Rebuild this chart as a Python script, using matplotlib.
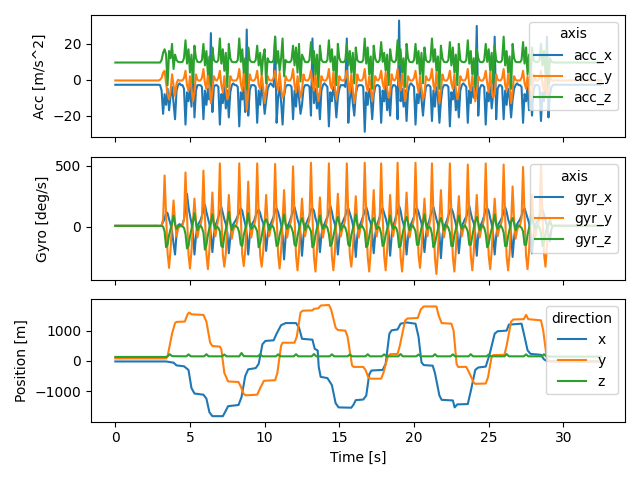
import numpy as np
import matplotlib
matplotlib.use("Agg")
import matplotlib.pyplot as plt

# ---------------- data ----------------
# sample grid of the walking part (s): starts at 3.0 s, one sample every 0.1 s
move_start = 3.0
move_dt = 0.1
rest_before_t = [0.0, 2.9]
rest_after_t = [29.4, 32.5]

# rest levels
acc_rest = {"acc_x": -2.8, "acc_y": -0.4, "acc_z": 9.6}
gyr_rest = {"gyr_x": 6, "gyr_y": 6, "gyr_z": 6}

# values read per gait cycle (one row per step)
acc_x_rows = [
    [-3, -6, -19],
    [-8, -14, -5, -17, -9, -4, -13, -22, -6, -3, -2, -3, -3, -5],
    [-25, -7, -12, -4, -15, 8, -21, -6, -3, -3, -3, -4],
    [-22, -6, -14, -5, -11, 26, -18, -4, -3, -3, -4],
    [-25, -8, -13, -3, -16, -6, -21, -7, -3, -2, -3, -3, -4],
    [-26, -7, -11, -4, -18, 28, -20, -6, -3, -3, -3, -4],
    [-24, -6, -14, -3, -9, -19, -12, -5, -3, -2, -3, -4],
    [24, -24, -10, -4, -12, -25, -9, -4, -3, -3, -3, -4],
    [-22, -6, -15, -4, -10, -19, -14, -5, -3, -3, -3, -4],
    [-20, 23, -13, -5, -16, -8, -22, -6, -3, -2, -3, -4],
    [-26, -7, -12, -4, -9, -21, -10, -5, -3, -3, -3, -4],
    [23, -24, -11, -4, -13, -20, -8, -4, -3, -3, -3, -4],
    [-29, -7, -14, -5, -10, -22, -9, -4, -3, -3, -4],
    [-24, -6, -12, -3, -17, -9, -20, -5, -3, -3, -4],
    [-22, 33, -12, -5, -15, -6, -23, -7, -3, -2, -3, -4],
    [-25, -8, -13, -4, -11, -20, -10, -4, -3, -3, -4],
    [-23, -6, -15, -4, -9, -24, -12, -5, -3, -3, -3, -4],
    [-26, -7, -11, -3, -17, -8, -21, -6, -3, -2, -3, -4],
    [-24, -6, -13, -4, -10, -7, 30, -20, -5, -3, -3, -4],
    [-25, -7, -12, -4, -16, -8, 24, -22, -5, -3, -3, -4],
    [-22, -6, -14, -5, -10, -21, -11, -5, -3, -2, -3, -3, -4],
    [-24, -8, -12, -4, -17, -7, -20, -6, -3, -3, -3, -4],
    [-23, -7, -12, -5, 24, -21, -8, -4, -3],
]

acc_y_rows = [
    [0, 1, 4],
    [5, -2, -8, -11, -6, 3, -3, -9, -2, 0, -0.5, -0.4, -0.4, 1],
    [5, -3, -6, 2, -5, -12, -7, 3, 0, -0.5, -0.4, 1],
    [6, -2, -5, 3, -4, -13, -6, 2, 0, -0.4, 1],
    [5, -3, -7, 2, -4, -11, -8, 2, 0, -0.5, -0.4, -0.4, 1],
    [6, -2, -6, 4, -5, -17, -7, 3, 0, -0.5, -0.4, 1],
    [5, -3, -5, 3, -4, -13, -6, 2, 0, -0.4, -0.4, 1],
    [5, -2, -6, 4, -5, -10, -8, 2, 0, -0.5, -0.4, 1],
    [6, -3, -7, 2, -4, -10, -6, 3, 0, -0.4, -0.4, 1],
    [5, -2, -6, 3, -5, -12, -7, 2, 0, -0.5, -0.4, 1],
    [6, -3, -5, 4, -4, -11, -6, 2, 0, -0.4, -0.4, 1],
    [5, -2, -7, 3, -5, -13, -8, 3, 0, -0.5, -0.4, 1],
    [6, -3, -6, 2, -4, -12, -6, 2, 0, -0.4, 1],
    [5, -2, -5, 4, -5, -10, -7, 3, 0, -0.4, 1],
    [6, -3, -6, 3, -4, -12, -6, 2, 0, -0.5, -0.4, 1],
    [5, -2, -7, 2, -5, -11, -8, 2, 0, -0.4, 1],
    [6, -3, -6, 4, -4, -13, -6, 3, 0, -0.5, -0.4, 1],
    [5, -2, -5, 3, -5, -11, -7, 2, 0, -0.4, -0.4, 1],
    [6, -3, -6, 2, -4, -12, -6, 2, 0, -0.5, -0.4, 1],
    [5, -2, -7, 4, -5, -10, -8, 3, 0, -0.4, -0.4, 1],
    [6, -3, -6, 3, -4, -13, -6, 2, 0, -0.5, -0.4, -0.4, 1],
    [5, -2, -5, 2, -5, -11, -7, 3, 0, -0.4, -0.4, 1],
    [5, -3, -6, 3, -10, -6, 1, 0, -0.4],
]

acc_z_rows = [
    [9.6, 11, 15],
    [17, 14, -3, 16, 12, 20, 6, 14, 11, 10, 9.8, 9.8, 10, 12],
    [22, 9, 17, 4, 14, -2, 19, 12, 10, 9.8, 9.8, 11],
    [20, 8, 16, 3, 13, -3, 18, 11, 10, 9.8, 11],
    [23, 9, 17, 5, 15, -4, 20, 12, 10, 9.8, 9.8, 9.8, 11],
    [23, 10, 17, 4, 12, -5, 18, 11, 10, 9.8, 9.8, 11],
    [19, 8, 15, 3, 13, 17, -2, 12, 10, 9.8, 9.8, 11],
    [24, 9, 16, 5, 12, 23, 2, 11, 10, 9.8, 9.8, 11],
    [19, 8, 18, 4, 20, -1, 14, 12, 10, 9.8, 9.8, 11],
    [21, 9, 16, 3, 14, -4, 19, 11, 10, 9.8, 9.8, 11],
    [22, 10, 17, 5, 13, -3, 20, 12, 10, 9.8, 9.8, 11],
    [20, 8, 16, 4, 15, -2, 18, 11, 10, 9.8, 9.8, 11],
    [23, 9, 18, 3, 13, -5, 19, 12, 10, 9.8, 11],
    [21, 10, 15, 5, 14, -3, 17, 11, 10, 9.8, 11],
    [22, 8, 17, 4, 12, -4, 20, 12, 10, 9.8, 9.8, 11],
    [20, 9, 16, 3, 15, -2, 18, 11, 10, 9.8, 11],
    [23, 10, 17, 5, 13, -5, 19, 12, 10, 9.8, 9.8, 11],
    [21, 8, 18, 4, 14, -3, 20, 11, 10, 9.8, 9.8, 11],
    [22, 9, 16, 3, 12, -4, 17, 12, 10, 9.8, 9.8, 11],
    [20, 10, 17, 5, 15, -2, 19, 11, 10, 9.8, 9.8, 11],
    [24, 8, 16, 4, 13, -5, 20, 12, 10, 9.8, 9.8, 9.8, 11],
    [21, 9, 18, 3, 14, -3, 18, 11, 10, 9.8, 9.8, 11],
    [20, 8, 16, 4, 17, -2, 12, 10, 9.8],
]

gyr_x_rows = [
    [5, 10, 40],
    [60, 120, 110, 60, 20, -40, -140, -230, -60, 10, 20, 10, 20, 60],
    [150, 270, 160, 90, 30, -60, -230, -80, 10, 30, 50, 90],
    [130, 180, 120, 70, 20, -70, -210, -70, 10, 40, 80],
    [120, 160, 110, 60, 20, -50, -220, -90, 0, 20, 40, 60, 90],
    [110, 150, 130, 70, 20, -60, -230, -80, 10, 30, 50, 90],
    [120, 140, 110, 60, 30, -50, -200, -70, 10, 20, 50, 80],
    [130, 150, 120, 70, 20, -70, -270, -90, 0, 20, 50, 90],
    [120, 160, 110, 60, 20, -60, -240, -80, 10, 30, 60, 90],
    [140, 150, 130, 70, 30, -50, -210, -70, 0, 20, 50, 80],
    [120, 170, 120, 60, 20, -60, -230, -90, 10, 30, 60, 90],
    [130, 150, 110, 70, 20, -70, -250, -80, 0, 20, 50, 90],
    [120, 160, 120, 60, 30, -60, -220, -70, 10, 40, 80],
    [130, 150, 110, 70, 20, -50, -240, -80, 10, 40, 90],
    [120, 170, 130, 60, 20, -60, -230, -90, 0, 20, 50, 80],
    [140, 150, 120, 70, 30, -70, -210, -70, 10, 40, 90],
    [120, 160, 110, 60, 20, -60, -260, -80, 0, 20, 50, 90],
    [130, 150, 120, 70, 20, -50, -220, -90, 10, 30, 60, 80],
    [120, 170, 110, 60, 30, -60, -240, -70, 0, 20, 50, 90],
    [140, 150, 130, 70, 20, -70, -230, -80, 10, 30, 50, 80],
    [120, 160, 120, 60, 20, -60, -250, -90, 0, 20, 40, 60, 90],
    [130, 150, 110, 70, 30, -50, -220, -80, 10, 30, 50, 90],
    [120, 140, 100, 50, 10, -60, -120, -20, 5],
]

gyr_y_rows = [
    [5, 8, 60],
    [420, 90, -220, -340, -190, 30, 215, 40, -80, -20, 0, 5, 10, 60],
    [445, 90, -230, -345, -200, 40, 230, 40, -90, -20, 10, 70],
    [460, 90, -230, -350, -190, 50, 280, 20, -80, 0, 60],
    [520, 90, -230, -330, -220, 30, 260, 50, -100, -30, 0, 10, 70],
    [520, 90, -230, -325, -200, 40, 370, 40, -90, -20, 10, 70],
    [520, 85, -240, -330, -210, 40, 260, 30, -80, -20, 10, 60],
    [515, 90, -230, -345, -200, 50, 300, 40, -90, -20, 10, 70],
    [495, 80, -240, -360, -210, 40, 230, 40, -80, -20, 10, 60],
    [525, 90, -250, -370, -200, 50, 240, 30, -90, -20, 10, 70],
    [520, 90, -240, -360, -210, 40, 270, 40, -80, -20, 10, 60],
    [520, 85, -230, -330, -200, 40, 250, 40, -90, -20, 10, 70],
    [525, 90, -250, -370, -200, 50, 300, 20, -80, 0, 60],
    [520, 90, -240, -360, -190, 40, 260, 20, -80, 0, 60],
    [525, 85, -250, -370, -210, 50, 280, 40, -90, -20, 10, 70],
    [525, 90, -230, -340, -190, 40, 230, 20, -80, 0, 60],
    [520, 90, -260, -390, -210, 40, 300, 40, -90, -20, 10, 70],
    [520, 85, -250, -370, -200, 50, 250, 40, -80, -20, 10, 60],
    [510, 90, -240, -360, -210, 40, 260, 30, -90, -20, 10, 70],
    [520, 90, -240, -350, -200, 40, 230, 40, -80, -20, 10, 60],
    [510, 85, -250, -360, -220, 30, 330, 50, -100, -30, 0, 10, 70],
    [490, 90, -240, -350, -200, 40, 260, 40, -90, -20, 10, 60],
    [505, 80, -220, -330, -150, 20, 60, 10, 5],
]

gyr_z_rows = [
    [5, 5, 0],
    [-40, -170, -150, -70, -20, 30, 90, 20, -20, 0, 10, 5, 0, -10],
    [-60, -180, -160, -80, -20, 40, 110, 30, -30, 0, 10, -10],
    [-50, -190, -150, -70, -10, 30, 100, 20, -20, 0, -10],
    [-40, -160, -170, -80, -20, 40, 120, 30, -30, 0, 10, 0, -10],
    [-50, -150, -160, -70, -20, 30, 110, 20, -20, 0, 10, -10],
    [-40, -170, -140, -80, -10, 40, 60, 30, -30, 0, 10, -10],
    [-60, -160, -150, -70, -20, 30, 100, 20, -20, 0, 10, -10],
    [-50, -150, -160, -80, -20, 40, 70, 30, -30, 0, 10, -10],
    [-40, -170, -150, -70, -10, 30, 90, 20, -20, 0, 10, -10],
    [-60, -160, -140, -80, -20, 40, 80, 30, -30, 0, 10, -10],
    [-50, -150, -160, -70, -20, 30, 100, 20, -20, 0, 10, -10],
    [-40, -170, -150, -80, -10, 40, 70, 30, -20, 0, -10],
    [-60, -160, -140, -70, -20, 30, 90, 20, -20, 0, -10],
    [-50, -170, -160, -80, -20, 40, 80, 30, -30, 0, 10, -10],
    [-40, -150, -150, -70, -10, 30, 100, 20, -20, 0, -10],
    [-60, -170, -140, -80, -20, 40, 70, 30, -30, 0, 10, -10],
    [-50, -160, -160, -70, -20, 30, 90, 20, -20, 0, 10, -10],
    [-40, -150, -150, -80, -10, 40, 80, 30, -30, 0, 10, -10],
    [-60, -170, -140, -70, -20, 30, 100, 20, -20, 0, 10, -10],
    [-50, -160, -160, -80, -20, 40, 70, 30, -30, 0, 10, 0, -10],
    [-40, -150, -150, -70, -10, 30, 90, 20, -20, 0, 10, -10],
    [-50, -160, -130, -60, -10, 20, 40, 10, 5],
]

# position keypoints (time [s], value [m])
pos_x_t = [0, 3.4, 3.9, 4.1, 4.6, 4.9, 5.1, 5.3, 5.9, 6.1, 6.3, 6.5, 7.2, 7.4, 7.55,
           8.25, 8.45, 8.7, 8.9, 9.4, 9.6, 9.85, 10.05, 10.6, 10.8, 11.1, 11.4, 12.1,
           12.3, 12.5, 13.2, 13.35, 13.55, 13.62, 13.75, 14.2, 14.5, 14.75, 14.95,
           15.8, 15.95, 16.1, 16.6, 16.8, 17.0, 17.15, 17.9, 18.1, 18.35, 18.5, 18.9,
           19.1, 19.5, 20.1, 20.3, 20.5, 20.65, 21.25, 21.4, 21.7, 21.85, 22.6,
           22.72, 22.9, 23.6, 23.8, 24.1, 24.3, 24.8, 25.05, 25.4, 25.6, 26.2, 26.35,
           27.2, 27.4, 27.6, 27.8, 28.5, 28.7, 28.9, 32.5]
pos_x_v = [-20, -20, -60, -150, -180, -300, -900, -1080, -1120, -1250, -1700, -1830,
           -1830, -1650, -1500, -1460, -1200, -500, -280, -240, -100, 550, 660, 680,
           900, 1180, 1250, 1250, 1100, 730, 700, 400, 340, -200, -530, -570, -800,
           -1400, -1540, -1550, -1450, -1300, -1280, -1150, -450, -320, -300, -100,
           900, 1010, 1040, 1230, 1270, 1230, 800, -50, -140, -160, -400, -1150,
           -1290, -1310, -1540, -1440, -1430, -1000, -300, -220, -190, 200, 900, 980,
           1000, 1200, 1230, 800, 350, 230, 200, 50, -10, -20]

pos_y_t = [0, 3.4, 3.5, 3.8, 4.0, 4.1, 4.65, 4.85, 4.95, 5.1, 5.9, 6.1, 6.35, 6.5,
           7.0, 7.1, 7.3, 7.55, 8.25, 8.4, 8.6, 8.75, 9.5, 9.7, 9.95, 10.7, 10.85,
           11.1, 11.2, 12.0, 12.15, 12.4, 12.55, 13.2, 13.3, 13.6, 13.75, 14.3, 14.45,
           14.75, 14.9, 15.4, 15.55, 15.85, 15.95, 16.6, 16.75, 16.95, 17.1, 17.8,
           17.95, 18.25, 18.4, 18.9, 19.05, 19.4, 19.55, 20.25, 20.45, 20.65, 21.5,
           21.65, 21.85, 22.5, 22.65, 22.85, 22.95, 23.5, 23.7, 24.0, 24.1, 24.8,
           24.95, 25.2, 25.3, 26.05, 26.2, 26.5, 26.65, 27.35, 27.5, 27.65, 28.5,
           28.65, 28.9, 29.1, 32.5]
pos_y_v = [80, 80, 150, 900, 1250, 1290, 1300, 1550, 1600, 1540, 1520, 1300, 600,
           490, 470, 380, -400, -680, -700, -850, -1100, -1140, -1120, -900, -660,
           -640, -400, 500, 600, 600, 800, 1600, 1660, 1670, 1720, 1740, 1830, 1850,
           1700, 1100, 1020, 1000, 800, -150, -200, -200, -300, -560, -590, -590,
           -400, 150, 220, 230, 500, 1330, 1400, 1420, 1700, 1800, 1800, 1500,
           1250, 1230, 1000, -100, -200, -200, -400, -720, -760, -750, -550, 150,
           190, 200, 500, 1300, 1370, 1380, 1520, 1380, 1340, 1000, 50, -20, -30]

pos_z_t = [0, 3.4, 3.5, 3.65, 3.8, 4.75, 4.9, 5.05, 5.95, 6.1, 6.25, 7.15, 7.3,
           7.45, 8.3, 8.45, 8.6, 9.55, 9.7, 9.85, 10.75, 10.9, 11.05, 11.95, 12.1,
           12.25, 13.15, 13.3, 13.45, 14.35, 14.5, 14.65, 15.55, 15.7, 15.85, 16.75,
           16.9, 17.05, 17.85, 18.0, 18.15, 18.95, 19.1, 19.25, 20.15, 20.3, 20.45,
           21.25, 21.4, 21.55, 22.45, 22.6, 22.75, 23.65, 23.8, 23.95, 24.85, 25.0,
           25.15, 26.05, 26.2, 26.35, 27.35, 27.5, 27.65, 28.55, 28.7, 28.85, 29.2,
           32.5]
pos_z_v = [130, 130, 150, 220, 155, 150, 215, 150, 150, 220, 150, 150, 210, 150,
           150, 260, 155, 150, 220, 150, 150, 215, 150, 150, 220, 150, 150, 225,
           150, 150, 215, 150, 150, 210, 150, 150, 220, 150, 150, 215, 150, 150,
           225, 150, 150, 210, 150, 150, 220, 150, 150, 215, 150, 150, 220, 150,
           150, 210, 150, 150, 225, 150, 150, 215, 150, 150, 220, 150, 140, 140]

pos_yticks = [-1000, 0, 1000]


def build_series(rows, rest):
    vals = [v for r in rows for v in r]
    t_move = move_start + move_dt * np.arange(len(vals))
    t = np.concatenate([rest_before_t, t_move, rest_after_t])
    v = np.concatenate([[rest, rest], vals, [rest, rest]])
    return t, v


# ---------------- plot ----------------
fig, axes = plt.subplots(3, 1, sharex=True, figsize=(6.4, 4.8), dpi=100)

ax = axes[0]
for name, rows in [("acc_x", acc_x_rows), ("acc_y", acc_y_rows), ("acc_z", acc_z_rows)]:
    t, v = build_series(rows, acc_rest[name])
    ax.plot(t, v, label=name)
ax.set_ylabel("Acc [m/s^2]")
ax.legend(title="axis", loc="upper right")

ax = axes[1]
for name, rows in [("gyr_x", gyr_x_rows), ("gyr_y", gyr_y_rows), ("gyr_z", gyr_z_rows)]:
    t, v = build_series(rows, gyr_rest[name])
    ax.plot(t, v, label=name)
ax.set_ylabel("Gyro [deg/s]")
ax.legend(title="axis", loc="upper right")

ax = axes[2]
ax.plot(pos_x_t, pos_x_v, label="x")
ax.plot(pos_y_t, pos_y_v, label="y")
ax.plot(pos_z_t, pos_z_v, label="z")
ax.set_yticks(pos_yticks)
ax.set_ylabel("Position [m]")
ax.set_xlabel("Time [s]")
ax.legend(title="direction", loc="upper right")

fig.tight_layout()
fig.savefig("out.png", dpi=100)
